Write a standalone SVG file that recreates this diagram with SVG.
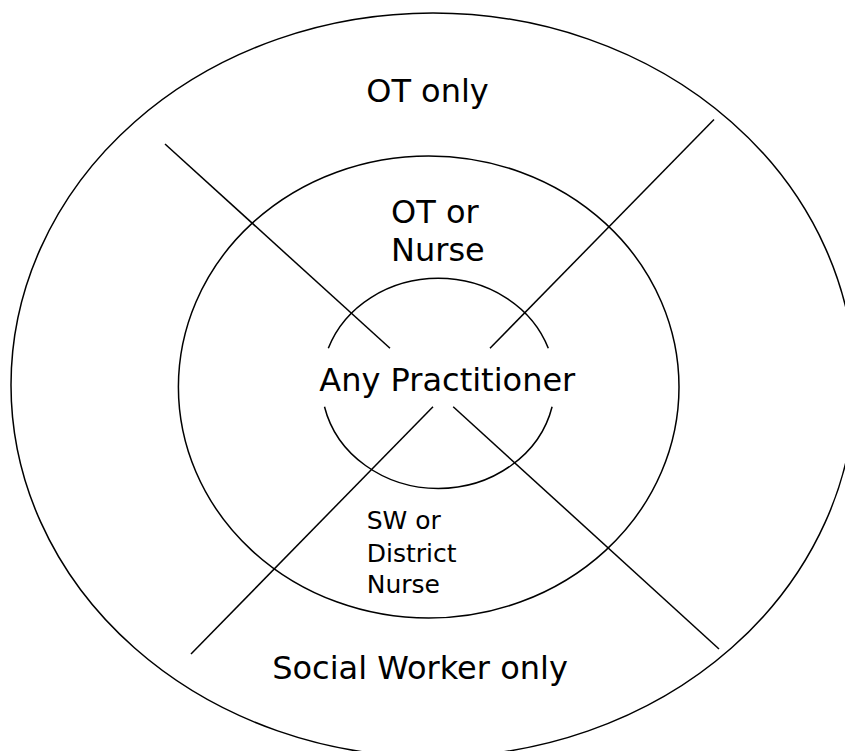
<svg xmlns="http://www.w3.org/2000/svg" width="845" height="751" viewBox="0 0 845 751">
  <style>
    .ring { fill: none; stroke: #000; stroke-width: 1.5; }
    .divider { stroke: #000; stroke-width: 1.5; fill: none; }
    .label { font-family: "DejaVu Sans", Verdana, sans-serif; font-size: 32px; fill: #000; }
    .small { font-family: "DejaVu Sans", Verdana, sans-serif; font-size: 25px; fill: #000; }
  </style>
  <rect width="845" height="751" fill="#fff"/>

  <!-- outer ring: single-discipline zones -->
  <g id="outer-ring">
    <ellipse class="ring" cx="433" cy="385" rx="422" ry="372"/>
    <text class="label" x="427.5" y="101.7" text-anchor="middle">OT only</text>
    <text class="label" x="420" y="679.3" text-anchor="middle">Social Worker only</text>
  </g>

  <!-- middle ring: shared zones -->
  <g id="middle-ring">
    <ellipse class="ring" cx="428.7" cy="387" rx="250.3" ry="231"/>
    <text class="label" x="391" y="223.3">OT or</text>
    <text class="label" x="391" y="261">Nurse</text>
    <text class="small" x="366.7" y="529.3">SW or</text>
    <text class="small" x="366.7" y="561.7">District</text>
    <text class="small" x="366.7" y="593.3">Nurse</text>
  </g>

  <!-- core: open circle around the centre label -->
  <g id="core">
    <path class="ring" d="M328.3,348.3 A116.7,105 0 0,1 548.3,348.3"/>
    <path class="ring" d="M552.1,406.7 A116.7,105 0 0,1 324.5,406.7"/>
    <text class="label" x="319.3" y="390.7">Any Practitioner</text>
  </g>

  <!-- diagonal dividers, broken around the centre label -->
  <g id="dividers">
    <line class="divider" x1="165" y1="144" x2="390" y2="348.3"/>
    <line class="divider" x1="453.2" y1="406.7" x2="719" y2="649"/>
    <line class="divider" x1="714" y1="119.5" x2="490" y2="348.3"/>
    <line class="divider" x1="433" y1="406.7" x2="191" y2="654"/>
  </g>
</svg>
